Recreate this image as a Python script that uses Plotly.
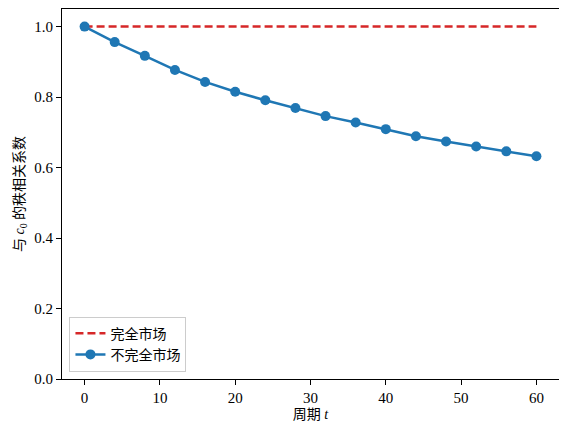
import plotly.graph_objects as go

# Dati: periodo t e coefficiente di correlazione di rango con c0
periods = [0, 4, 8, 12, 16, 20, 24, 28, 32, 36, 40, 44, 48, 52, 56, 60]
complete_market = [1.0] * len(periods)
incomplete_market = [1.000, 0.956, 0.917, 0.877, 0.843, 0.815, 0.791, 0.769,
                     0.746, 0.728, 0.709, 0.689, 0.674, 0.660, 0.646, 0.632]

x_ticks = [0, 10, 20, 30, 40, 50, 60]
y_ticks = [0.0, 0.2, 0.4, 0.6, 0.8, 1.0]

SERIF = '"Liberation Serif", "Times New Roman", "Noto Sans CJK SC", serif'

fig = go.Figure()
fig.add_trace(
    go.Scatter(
        x=periods,
        y=complete_market,
        mode="lines",
        name="完全市场",
        line=dict(color="#d62728", width=2.5, dash="8px,4px"),
    )
)
fig.add_trace(
    go.Scatter(
        x=periods,
        y=incomplete_market,
        mode="lines+markers",
        name="不完全市场",
        line=dict(color="#1f77b4", width=2.5),
        marker=dict(color="#1f77b4", size=10),
    )
)

axis_style = dict(
    showgrid=False,
    zeroline=False,
    showline=True,
    linecolor="black",
    linewidth=1,
    mirror=True,
    ticks="outside",
    ticklen=5,
    tickcolor="black",
    automargin=False,
    tickfont=dict(family=SERIF, size=15, color="black"),
)

fig.update_xaxes(
    range=[-3, 63],
    tickvals=x_ticks,
    title=dict(text="周期 <i>t</i>", font=dict(family=SERIF, size=14, color="black"), standoff=4),
    **axis_style,
)
fig.update_yaxes(
    range=[0, 1.05],
    tickvals=y_ticks,
    tickformat=".1f",
    title=dict(text="与 <i>c</i><sub>0</sub> 的秩相关系数", font=dict(family=SERIF, size=14, color="black"), standoff=6),
    **axis_style,
)

# la pagina ha un margine di 8px: dimensioni ridotte per allineare l'area del grafico
fig.update_layout(
    width=551,
    height=416,
    margin=dict(l=54, r=0, t=1, b=45),
    plot_bgcolor="white",
    paper_bgcolor="white",
    font=dict(family=SERIF, color="black"),
    legend=dict(
        x=0.015,
        y=0.02,
        xanchor="left",
        yanchor="bottom",
        bgcolor="rgba(255,255,255,0.8)",
        bordercolor="#cccccc",
        borderwidth=1,
        font=dict(family=SERIF, size=14, color="black"),
        tracegroupgap=0,
    ),
)

fig.write_html("out.html")
